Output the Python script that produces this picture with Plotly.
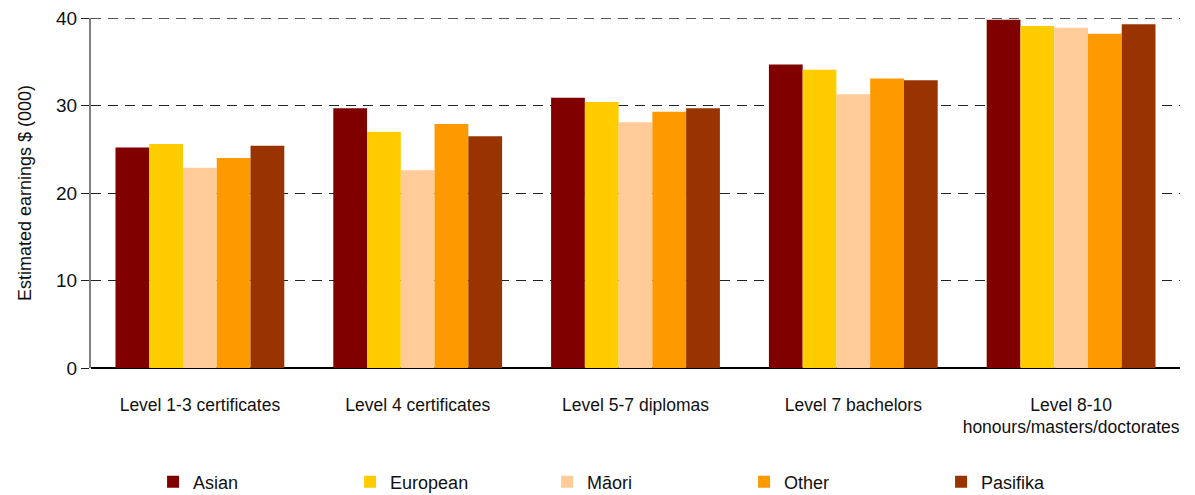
import plotly.graph_objects as go

# categories and series
levels = ['Level 1-3 certificates', 'Level 4 certificates', 'Level 5-7 diplomas',
          'Level 7 bachelors', 'Level 8-10<br>honours/masters/doctorates']
asian = [25.2, 29.7, 30.9, 34.7, 39.8]
european = [25.6, 27.0, 30.4, 34.1, 39.1]
maori = [22.9, 22.6, 28.1, 31.3, 38.9]
other = [24.0, 27.9, 29.3, 33.1, 38.2]
pasifika = [25.4, 26.5, 29.7, 32.9, 39.3]
yticks = [0, 10, 20, 30, 40]

series = [('Asian', asian, '#800000'),
          ('European', european, '#FFCC00'),
          ('Māori', maori, '#FFCC99'),
          ('Other', other, '#FF9900'),
          ('Pasifika', pasifika, '#993300')]

fig = go.Figure()
for name, vals, col in series:
    fig.add_trace(go.Bar(x=levels, y=vals, name=name, marker_color=col,
                         marker_line_width=0))

# page body has an 8px margin, so the figure is a bit smaller than the window
fig.update_layout(
    width=1187, height=487,
    margin=dict(l=83, r=15, t=10, b=127, autoexpand=False),
    barmode='group', bargap=0.225, bargroupgap=0,
    plot_bgcolor='white', paper_bgcolor='white',
    font=dict(family='Liberation Sans, Arial, sans-serif', size=17, color='#111'),
    showlegend=True,
    legend=dict(orientation='h', x=0.057, xanchor='left', y=-0.326, yanchor='middle',
                entrywidth=152, font=dict(size=18), itemwidth=30),
)
fig.update_yaxes(range=[yticks[0], yticks[-1]], tickvals=yticks,
                 showgrid=True, gridcolor='#222', gridwidth=1.3, griddash='10px,7px',
                 zeroline=True, zerolinecolor='#000', zerolinewidth=1.5,
                 showline=True, linecolor='#808080', linewidth=2,
                 ticks='outside', ticklen=8, tickcolor='#222',
                 tickfont=dict(size=19), automargin=False, ticklabeloverflow='allow',
                 title=dict(text='Estimated earnings $ (000)', font=dict(size=18), standoff=20))
fig.update_xaxes(showline=False, ticks='', tickfont=dict(size=17.5), automargin=False,
                 ticklabelstandoff=24)

# plotly drops the gridline at the top edge, draw it back
fig.add_hline(y=yticks[-1], line=dict(color='#222', width=1.3, dash='10px,7px'), layer='below')

fig.write_html('out.html')
